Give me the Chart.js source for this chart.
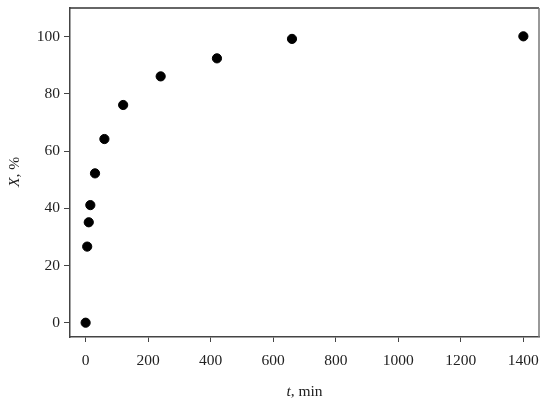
<!DOCTYPE html>
<html>
<head>
<meta charset="utf-8">
<script src="https://cdn.jsdelivr.net/npm/chart.js@4"></script>
<style>
html,body{margin:0;padding:0;background:#fff;}
#wrap{width:550px;height:406px;}
</style>
</head>
<body>
<div id="wrap"><canvas id="c" width="550" height="406"></canvas></div>
<script>
const timeMin = [0, 5, 10, 15, 30, 60, 120, 240, 420, 660, 1400];
const conversion = [0, 26.6, 35.1, 41.1, 52.2, 64.2, 76.1, 86.1, 92.4, 99.2, 100.1];
const xTickValues = [0, 200, 400, 600, 800, 1000, 1200, 1400];
const yTickValues = [0, 20, 40, 60, 80, 100];
const xTitleParts = [["t", true], [", min", false]];
const yTitleParts = [["X", true], [", %", false]];

const FONT = '"Liberation Serif", "DejaVu Serif", serif';
const points = timeMin.map((t, i) => ({x: t, y: conversion[i]}));

function drawParts(ctx, parts, size) {
  let widths = parts.map(p => {
    ctx.font = (p[1] ? 'italic ' : '') + size + 'px ' + FONT;
    return ctx.measureText(p[0]).width;
  });
  const total = widths.reduce((a, b) => a + b, 0);
  let x = -total / 2;
  parts.forEach((p, i) => {
    ctx.font = (p[1] ? 'italic ' : '') + size + 'px ' + FONT;
    ctx.fillText(p[0], x, 0);
    x += widths[i];
  });
}

const framePlugin = {
  id: 'frame',
  afterDraw(chart) {
    const {ctx, chartArea: a} = chart;
    ctx.save();
    ctx.lineWidth = 1.5;
    ctx.strokeStyle = '#333';
    ctx.beginPath();
    ctx.moveTo(a.left, a.top);
    ctx.lineTo(a.right, a.top);
    ctx.stroke();
    ctx.strokeStyle = '#777';
    ctx.beginPath();
    ctx.moveTo(a.right, a.top);
    ctx.lineTo(a.right, a.bottom);
    ctx.stroke();
    ctx.fillStyle = '#222';
    ctx.textBaseline = 'middle';
    ctx.textAlign = 'left';
    ctx.save();
    ctx.translate((a.left + a.right) / 2, 392);
    drawParts(ctx, xTitleParts, 15.5);
    ctx.restore();
    ctx.save();
    ctx.translate(15, 172);
    ctx.rotate(-Math.PI / 2);
    drawParts(ctx, yTitleParts, 15.5);
    ctx.restore();
    ctx.restore();
  }
};

new Chart(document.getElementById('c'), {
  type: 'scatter',
  data: {
    datasets: [{
      label: 'X',
      data: points,
      backgroundColor: '#000',
      borderColor: '#000',
      pointRadius: 4.6,
      pointHoverRadius: 4.6,
      showLine: false
    }]
  },
  options: {
    responsive: false,
    animation: false,
    layout: {padding: {top: 8, right: 11, left: 0, bottom: 0}},
    plugins: {legend: {display: false}, tooltip: {enabled: false}},
    scales: {
      x: {
        type: 'linear',
        min: -50,
        max: 1450,
        afterBuildTicks: s => { s.ticks = xTickValues.map(v => ({value: v})); },
        afterFit: s => { s.height = 69; s.paddingLeft = 0; s.paddingRight = 0; },
        border: {display: true, color: '#444', width: 1.5},
        grid: {drawOnChartArea: false, drawTicks: true, tickLength: 5, color: '#444'},
        ticks: {color: '#222', padding: 10, font: {family: FONT, size: 15.5}, maxRotation: 0, autoSkip: false, callback: v => String(v)},
        title: {display: false, text: 't, min'}
      },
      y: {
        type: 'linear',
        min: -5,
        max: 110,
        afterBuildTicks: s => { s.ticks = yTickValues.map(v => ({value: v})); },
        afterFit: s => { s.width = 70; s.paddingTop = 0; s.paddingBottom = 0; },
        border: {display: true, color: '#444', width: 1.5},
        grid: {drawOnChartArea: false, drawTicks: true, tickLength: 6, color: '#444'},
        ticks: {color: '#222', padding: 4, font: {family: FONT, size: 15.5}, autoSkip: false, callback: v => String(v)},
        title: {display: false, text: 'X, %'}
      }
    }
  },
  plugins: [framePlugin]
});
</script>
</body>
</html>
